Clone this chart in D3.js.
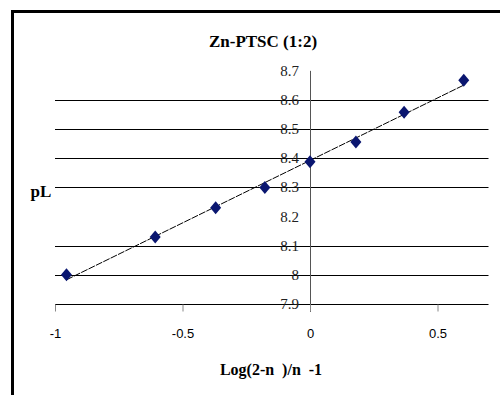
<!DOCTYPE html>
<html>
<head>
<meta charset="utf-8">
<script src="https://cdn.jsdelivr.net/npm/d3@7"></script>
<style>
  body { margin: 0; background: #fff; }
</style>
</head>
<body>
<svg width="500" height="395"></svg>
<script>
// values
const xValues = [-0.955, -0.607, -0.37, -0.177, 0.0, 0.18, 0.369, 0.603];
const pL = [8.0, 8.13, 8.23, 8.3, 8.388, 8.456, 8.558, 8.668];
const yTicks = [7.9, 8.0, 8.1, 8.2, 8.3, 8.4, 8.5, 8.6, 8.7];
const gridTicks = [7.9, 8.0, 8.1, 8.3, 8.4, 8.5, 8.6];
const xTicks = [-1, -0.5, 0, 0.5];

const serif = "Liberation Serif";
const sans = "Liberation Sans";

const svg = d3.select("svg");

// frame (only left and top edges are visible)
svg.append("path")
    .attr("d", "M12.5,395 V11.5 H500")
    .attr("fill", "none")
    .attr("stroke", "#000")
    .attr("stroke-width", 3);

const x = d3.scaleLinear().domain([-1, 0.7]).range([55, 488.5]);
const y = d3.scaleLinear().domain([7.9, 8.6]).range([304, 100]);

// horizontal gridlines
svg.append("g")
    .selectAll("line")
    .data(gridTicks)
    .enter()
    .append("line")
    .attr("x1", x(-1))
    .attr("x2", x(0.7))
    .attr("y1", d => Math.round(y(d)) + 0.5)
    .attr("y2", d => Math.round(y(d)) + 0.5)
    .attr("stroke", "#000")
    .attr("stroke-width", 1);

// vertical axis at x = 0
svg.append("line")
    .attr("x1", Math.round(x(0)) + 0.5)
    .attr("x2", Math.round(x(0)) + 0.5)
    .attr("y1", y(8.7))
    .attr("y2", 312)
    .attr("stroke", "#555")
    .attr("stroke-width", 1);

// y tick labels
svg.append("g")
    .selectAll("text")
    .data(yTicks)
    .enter()
    .append("text")
    .attr("x", x(0) - 11)
    .attr("y", d => y(d) + 5)
    .attr("text-anchor", "end")
    .attr("font-family", serif)
    .attr("font-size", 15)
    .attr("fill", "#222")
    .text(d => +d.toFixed(1));

// x axis ticks
const xAxis = d3.axisBottom(x)
    .tickValues(xTicks)
    .tickSize(7)
    .tickFormat(d => d);
const gx = svg.append("g")
    .attr("transform", `translate(0,${Math.round(y(7.9)) + 0.5})`)
    .call(xAxis);
gx.select(".domain").remove();
gx.selectAll(".tick line").attr("stroke", "#888");
gx.selectAll(".tick text")
    .attr("y", 24)
    .attr("font-size", 13)
    .attr("font-family", sans)
    .attr("fill", "#000");

// linear trendline from the data
const mx = d3.mean(xValues), my = d3.mean(pL);
const slope = d3.sum(xValues, (v, i) => (v - mx) * (pL[i] - my)) / d3.sum(xValues, v => (v - mx) ** 2);
const icpt = my - slope * mx;
const ext = d3.extent(xValues);
svg.append("line")
    .attr("x1", x(ext[0]))
    .attr("y1", y(icpt + slope * ext[0]))
    .attr("x2", x(ext[1]))
    .attr("y2", y(icpt + slope * ext[1]))
    .attr("stroke", "#000")
    .attr("stroke-width", 1)
    .attr("stroke-dasharray", "7,1.2");

// markers: wide diamond like the spreadsheet marker
const wideDiamond = {
    draw(ctx) {
        ctx.moveTo(0, -6.5);
        ctx.lineTo(5.5, 0);
        ctx.lineTo(0, 6.5);
        ctx.lineTo(-5.5, 0);
        ctx.closePath();
    }
};
svg.append("g")
    .selectAll("path")
    .data(xValues.map((v, i) => [v, pL[i]]))
    .enter()
    .append("path")
    .attr("d", d3.symbol().type(wideDiamond))
    .attr("transform", d => `translate(${x(d[0])},${y(d[1])})`)
    .attr("fill", "#0a1670");

// titles
svg.append("text")
    .attr("x", 263)
    .attr("y", 47)
    .attr("text-anchor", "middle")
    .attr("font-family", serif)
    .attr("font-size", 17)
    .attr("font-weight", "bold")
    .text("Zn-PTSC (1:2)");

svg.append("text")
    .attr("x", 41)
    .attr("y", 197)
    .attr("text-anchor", "middle")
    .attr("font-family", serif)
    .attr("font-size", 17)
    .attr("font-weight", "bold")
    .text("pL");

svg.append("text")
    .attr("x", 271)
    .attr("y", 375)
    .attr("text-anchor", "middle")
    .attr("font-family", serif)
    .attr("font-size", 16)
    .attr("font-weight", "bold")
    .attr("xml:space", "preserve")
    .text("Log(2-n  )/n  -1");
</script>
</body>
</html>
